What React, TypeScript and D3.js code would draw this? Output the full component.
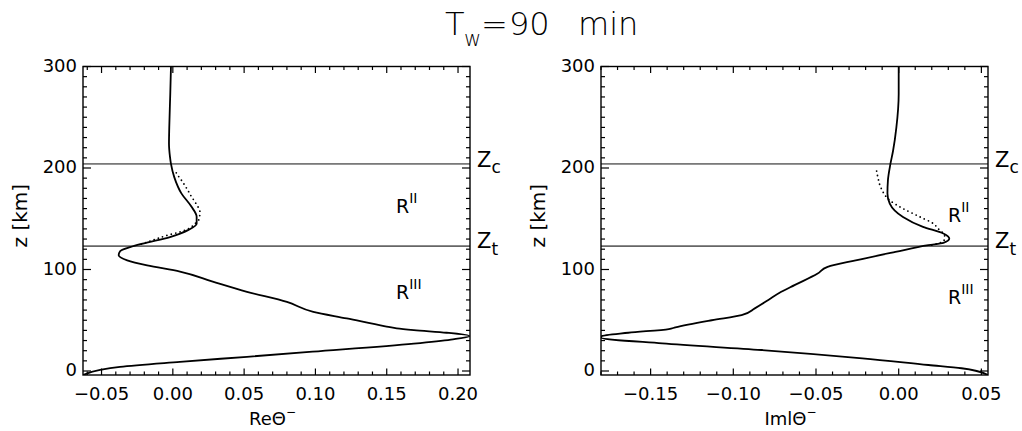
import React from "react";
import * as d3 from "d3";

// ---------- data ----------
const title = "90  min";
const zTicks = [0, 100, 200, 300];
const reTicks = [-0.05, 0.0, 0.05, 0.1, 0.15, 0.2];
const imTicks = [-0.15, -0.1, -0.05, 0.0, 0.05];
const zLevels = [204, 123]; // Zc, Zt

// Re Θ− solid
const reSolidZ = [-4, 1, 4, 9, 14, 19, 27, 31, 34.4, 37.7, 40.3, 42, 44, 51.8, 58.3, 68, 78, 88, 98, 104, 109, 114, 118, 122, 125.6, 132, 139, 145, 152, 162, 175, 191, 204, 211, 224, 240, 273, 300];
const reSolidV = [-0.063, -0.051, -0.037, 0.005, 0.052, 0.098, 0.169, 0.195, 0.2083, 0.192, 0.169, 0.157, 0.149, 0.122, 0.0985, 0.08, 0.052, 0.028, 0.005, -0.018, -0.032, -0.038, -0.037, -0.03, -0.021, -0.002, 0.011, 0.0167, 0.0167, 0.013, 0.006, 0.001, -0.0013, -0.002, -0.0027, -0.0025, -0.0018, -0.0013];
// Re Θ− dotted
const reDotZ = [125, 127, 134, 137, 141, 145, 150, 156.7, 165, 172, 180, 188, 194.5, 198];
const reDotV = [-0.022, -0.018, -0.003, 0.005, 0.012, 0.0155, 0.0185, 0.019, 0.0162, 0.013, 0.0097, 0.006, 0.0027, 0.0015];

// Im Θ− solid
const imSolidZ = [-4, 2.7, 5.9, 12.5, 20.7, 27.2, 33, 34.4, 37.7, 41.3, 43, 50, 55, 61.7, 70, 78, 84.6, 96, 102.6, 109, 117.3, 124, 126.2, 130.5, 135.4, 142, 151.8, 165, 175, 188, 204, 217, 240, 273, 300];
const imSolidV = [0.054, 0.038, 0.018, -0.022, -0.083, -0.143, -0.18, -0.1796, -0.1635, -0.139, -0.135, -0.113, -0.095, -0.087, -0.0788, -0.071, -0.063, -0.049, -0.043, -0.026, -0.002, 0.018, 0.027, 0.0306, 0.027, 0.0147, 0.0026, -0.0054, -0.0068, -0.0065, -0.005, -0.0034, -0.0014, 0.0, 0.0];
// Im Θ− dotted
const imDotZ = [124, 127, 131, 135.4, 140, 145.3, 151.8, 160, 168, 180, 191, 199.4];
const imDotV = [0.02, 0.026, 0.028, 0.027, 0.024, 0.0209, 0.0129, 0.0026, -0.0053, -0.0106, -0.0126, -0.0136];

// ---------- layout ----------
const TOP = 66.5;
const BOT = 375;
const FONT = "DejaVu Sans, sans-serif";

type PanelProps = {
  x0: number;
  x1: number;
  domain: [number, number];
  ticks: number[];
  solidZ: number[];
  solidV: number[];
  dotZ: number[];
  dotV: number[];
  xlabel: string;
  rPos: [number, number, number];
};

function fmt(v: number) {
  const s = Math.abs(v).toFixed(2);
  return (v < -1e-9 ? "\u2212" : "") + s;
}

function Panel(p: PanelProps) {
  const x = d3.scaleLinear().domain(p.domain).range([p.x0, p.x1]);
  const y = d3.scaleLinear().domain([0, 300]).range([371, TOP]);
  const line = d3
    .line<[number, number]>()
    .x((d) => x(d[0]))
    .y((d) => y(d[1]))
    .curve(d3.curveMonotoneY);
  const solid = p.solidZ.map((z, i) => [p.solidV[i], z] as [number, number]);
  const dots = p.dotZ.map((z, i) => [p.dotV[i], z] as [number, number]);

  const step = 0.01;
  const minorX: number[] = [];
  for (let k = Math.ceil(p.domain[0] / step); k * step <= p.domain[1] + 1e-9; k++) minorX.push(k * step);
  const minorZ = d3.range(0, 301, 10);

  const cx = (p.x0 + p.x1) / 2;
  return (
    <g>
      <defs>
        <clipPath id={"clip" + p.x0}>
          <rect x={p.x0} y={TOP} width={p.x1 - p.x0} height={BOT - TOP} />
        </clipPath>
      </defs>
      {/* horizontal reference lines */}
      <line x1={p.x0} x2={p.x1} y1={y(zLevels[0])} y2={y(zLevels[0])} stroke="#111" strokeWidth={1} />
      <line x1={p.x0} x2={p.x1} y1={y(zLevels[1])} y2={y(zLevels[1])} stroke="#666" strokeWidth={1.6} />
      <g clipPath={`url(#clip${p.x0})`}>
        <path d={line(dots) ?? ""} fill="none" stroke="#000" strokeWidth={1.8} strokeDasharray="0 4.5" strokeLinecap="round" />
        <path d={line(solid) ?? ""} fill="none" stroke="#000" strokeWidth={1.8} />
      </g>
      {/* frame */}
      <rect x={p.x0} y={TOP} width={p.x1 - p.x0} height={BOT - TOP} fill="none" stroke="#000" strokeWidth={1.4} />
      {/* x ticks */}
      {minorX.map((v, i) => {
        const major = p.ticks.some((t) => Math.abs(t - v) < 1e-6);
        const L = major ? 6.5 : 3.5;
        return (
          <g key={"xt" + i}>
            <line x1={x(v)} x2={x(v)} y1={BOT} y2={BOT - L} stroke="#000" strokeWidth={1.2} />
            <line x1={x(v)} x2={x(v)} y1={TOP} y2={TOP + L} stroke="#000" strokeWidth={1.2} />
          </g>
        );
      })}
      {minorZ.map((z, i) => {
        const major = zTicks.includes(z);
        const L = major ? 8 : 4;
        return (
          <g key={"yt" + i}>
            <line x1={p.x0} x2={p.x0 + L} y1={y(z)} y2={y(z)} stroke="#000" strokeWidth={1.2} />
            <line x1={p.x1} x2={p.x1 - L} y1={y(z)} y2={y(z)} stroke="#000" strokeWidth={1.2} />
          </g>
        );
      })}
      {p.ticks.map((t, i) => (
        <text key={"xl" + i} x={x(t)} y={400} textAnchor="middle" fontSize={18} fontFamily={FONT}>
          {fmt(t)}
        </text>
      ))}
      {zTicks.map((z, i) => (
        <text key={"yl" + i} x={p.x0 - 6} y={y(z) + 5} textAnchor="end" fontSize={18} fontFamily={FONT}>
          {z}
        </text>
      ))}
      <text transform={`translate(${p.x0 - 56},${y(153)}) rotate(-90)`} textAnchor="middle" fontSize={20} fontFamily={FONT}>
        z [km]
      </text>
      <text x={cx - 4} y={425} textAnchor="middle" fontSize={18} fontFamily={FONT}>
        {p.xlabel}
        <tspan fontSize={12} dy={-9}>{"\u2212"}</tspan>
      </text>
      {/* Z labels */}
      <text x={p.x1 + 7} y={y(zLevels[0]) + 3} fontSize={21} fontFamily={FONT}>
        Z<tspan fontSize={17} dy={6}>c</tspan>
      </text>
      <text x={p.x1 + 7} y={y(zLevels[1]) + 2} fontSize={21} fontFamily={FONT}>
        Z<tspan fontSize={17} dy={7}>t</tspan>
      </text>
      {/* region labels */}
      <text x={p.rPos[0]} y={p.rPos[1]} fontSize={19} fontFamily={FONT}>
        R<tspan fontSize={14} dy={-10}>II</tspan>
      </text>
      <text x={p.rPos[0]} y={p.rPos[2]} fontSize={19} fontFamily={FONT}>
        R<tspan fontSize={14} dy={-10}>III</tspan>
      </text>
    </g>
  );
}

export default function App() {
  return (
    <svg width={1022} height={431} style={{ position: "absolute", left: 0, top: 0, background: "#fff" }}>
      <rect x={0} y={0} width={1022} height={431} fill="#fff" />
      <text y={35} fontSize={32} fontFamily={FONT} fontWeight={300}>
        <tspan x={445}>T</tspan>
        <tspan x={464} dy={11} fontSize={21}>w</tspan>
        <tspan x={481} dy={-11}>=</tspan>
        <tspan x={509}>{title.split("  ")[0]}</tspan>
        <tspan x={578}>{title.split("  ")[1]}</tspan>
      </text>
      <Panel
        x0={83}
        x1={470}
        domain={[-0.063, 0.2084]}
        ticks={reTicks}
        solidZ={reSolidZ}
        solidV={reSolidV}
        dotZ={reDotZ}
        dotV={reDotV}
        xlabel={"Re\u0398"}
        rPos={[396, 213, 299]}
      />
      <Panel
        x0={601}
        x1={988}
        domain={[-0.18, 0.054]}
        ticks={imTicks}
        solidZ={imSolidZ}
        solidV={imSolidV}
        dotZ={imDotZ}
        dotV={imDotV}
        xlabel={"Iml\u0398"}
        rPos={[948, 222, 304]}
      />
    </svg>
  );
}
